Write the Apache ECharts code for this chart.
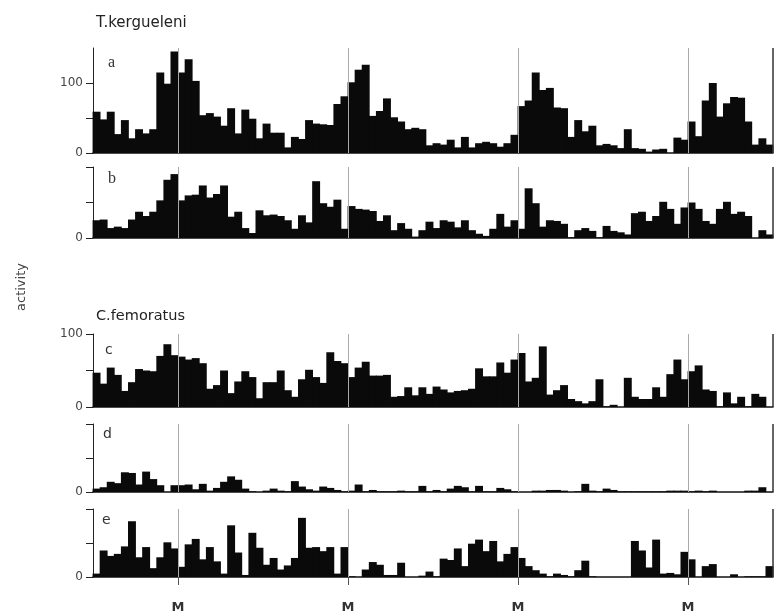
<!DOCTYPE html>
<html><head><meta charset="utf-8">
<script src="https://cdn.jsdelivr.net/npm/echarts@6/dist/echarts.min.js"></script>
<style>html,body{margin:0;padding:0;background:#fff}#c{width:775px;height:614px}</style>
</head><body><div id="c"></div>
<script>
// hourly bins over 4 days, starting at noon; M = midnight
const midnights = [12, 36, 60, 84];
const tickLabel = 'M';
const panelA = [59,48,59,27,47,21,34,28,34,115,99,145,115,134,103,54,57,52,39,64,28,62,49,21,42,29,29,8,23,20,47,42,41,40,70,81,101,119,126,53,60,78,51,45,34,36,34,11,14,12,19,8,23,8,14,16,14,9,14,26,67,75,115,90,93,65,64,23,47,31,39,11,13,11,7,34,7,6,2,5,6,0,22,19,45,24,75,100,52,71,80,79,45,12,21,12];
const panelB = [25,26,14,16,14,26,37,31,37,53,82,90,53,60,61,74,57,62,74,30,37,14,7,39,32,33,31,25,13,32,22,80,49,44,54,13,45,41,40,38,24,32,11,21,13,2,11,23,14,25,23,15,25,11,6,3,13,34,16,25,13,70,49,16,25,24,20,1,11,14,10,1,17,10,8,5,35,37,24,31,51,41,20,43,50,41,24,20,41,51,34,37,31,0,11,5];
const panelC = [47,32,54,44,22,34,52,50,49,70,86,71,69,65,67,60,25,30,50,19,35,49,41,12,34,34,50,23,14,38,51,41,33,75,63,60,41,54,62,43,43,44,14,15,27,16,27,18,28,24,20,22,23,25,53,42,42,61,47,65,74,35,40,83,17,23,30,11,8,5,8,38,1,3,0,40,14,11,11,27,14,45,65,38,49,57,24,22,1,20,5,14,1,18,14,0];
const panelD = [5,7,15,13,29,28,11,30,19,10,0,10,10,11,4,12,2,6,15,23,18,5,1,0,2,5,2,1,16,8,4,2,8,6,3,1,2,11,1,3,1,1,1,2,1,1,9,1,3,1,5,9,7,1,9,1,1,6,4,1,0,0,2,2,3,3,2,0,1,12,2,1,5,3,1,1,1,1,1,1,1,2,2,2,1,2,1,2,0,0,0,0,2,2,7,0];
const panelE = [5,39,31,34,45,82,29,44,13,29,51,42,15,48,56,26,44,23,5,76,36,3,65,43,18,28,11,17,28,87,43,44,38,44,5,44,1,0,11,22,18,3,3,21,0,0,2,8,1,27,25,42,16,49,55,38,53,23,34,44,28,16,10,5,1,5,3,1,10,24,1,0,0,0,0,0,53,39,14,55,5,6,4,37,26,0,16,19,0,0,4,0,1,1,1,16];
const panels = [panelA, panelB, panelC, panelD, panelE];
const letters = ['a', 'b', 'c', 'd', 'e'];
const yMax = [150, 100, 100, 100, 100];
const yLabelled = [[0, 100], [0], [0, 100], [0], [0]];

const grids = [
  {left: 93, width: 680, top: 48, height: 105},
  {left: 93, width: 680, top: 167, height: 71},
  {left: 93, width: 680, top: 334, height: 73},
  {left: 93, width: 680, top: 424, height: 68},
  {left: 93, width: 680, top: 509, height: 68}
];
const letterPos = [[108, 55, 'Liberation Serif', 16], [108, 171, 'Liberation Serif', 16], [105, 343, 'DejaVu Sans', 14], [103, 427, 'DejaVu Sans', 14], [102, 513, 'DejaVu Sans', 14]];

const chart = echarts.init(document.getElementById('c'));
const titles = [
  {text: 'T.kergueleni', left: 96, top: 16, padding: 0, textStyle: {fontFamily: 'DejaVu Sans', fontSize: 15, fontWeight: 'normal', color: '#222'}},
  {text: 'C.femoratus', left: 96, top: 309, padding: 0, textStyle: {fontFamily: 'DejaVu Sans', fontSize: 14.5, fontWeight: 'normal', color: '#222'}}
];
letters.forEach((l, i) => titles.push({text: l, left: letterPos[i][0], top: letterPos[i][1], padding: 0,
  textStyle: {fontFamily: letterPos[i][2], fontSize: letterPos[i][3], fontWeight: 'normal', color: '#333'}}));

const xAxes = [], yAxes = [], series = [];
panels.forEach((vals, i) => {
  const last = i === panels.length - 1;
  xAxes.push({
    type: 'value', gridIndex: i, min: 0, max: 96,
    axisLine: {show: true, onZero: false, lineStyle: {color: '#111', width: 1.5}},
    axisTick: {show: last, customValues: midnights, length: 8, lineStyle: {color: '#555'}},
    axisLabel: {show: last, customValues: midnights, formatter: () => tickLabel, margin: 24,
      fontFamily: 'DejaVu Sans', fontSize: 13, fontWeight: 'bold', color: '#333'},
    splitLine: {show: false}
  });
  yAxes.push({
    type: 'value', gridIndex: i, min: 0, max: yMax[i], interval: 50,
    axisLine: {show: true, lineStyle: {color: '#222', width: 1}},
    axisTick: {show: true, customValues: [0, 50, 100], length: 7, lineStyle: {color: '#222'}},
    axisLabel: {customValues: yLabelled[i], margin: 10, fontFamily: 'DejaVu Sans', fontSize: 12, color: '#444'},
    splitLine: {show: false}
  });
  series.push({
    type: 'bar', xAxisIndex: i, yAxisIndex: i, barWidth: '112%',
    data: vals.map((v, k) => [k + 0.5, v]),
    itemStyle: {color: '#0a0a0a', borderWidth: 0},
    silent: true,
    markLine: {
      silent: true, symbol: 'none', label: {show: false},
      lineStyle: {color: '#aaa', width: 1, type: 'solid'},
      data: midnights.map(m => ({xAxis: m})).concat([{xAxis: 96, lineStyle: {color: '#333', width: 1.5}}])
    }
  });
});

chart.setOption({
  animation: false,
  backgroundColor: '#fff',
  title: titles,
  grid: grids,
  xAxis: xAxes,
  yAxis: yAxes,
  series: series,
  graphic: [{type: 'text', x: 22, y: 287, rotation: Math.PI / 2,
    style: {text: 'activity', fontFamily: 'DejaVu Sans', fontSize: 13, fill: '#444', textAlign: 'center', textVerticalAlign: 'middle'}}]
});
</script></body></html>
